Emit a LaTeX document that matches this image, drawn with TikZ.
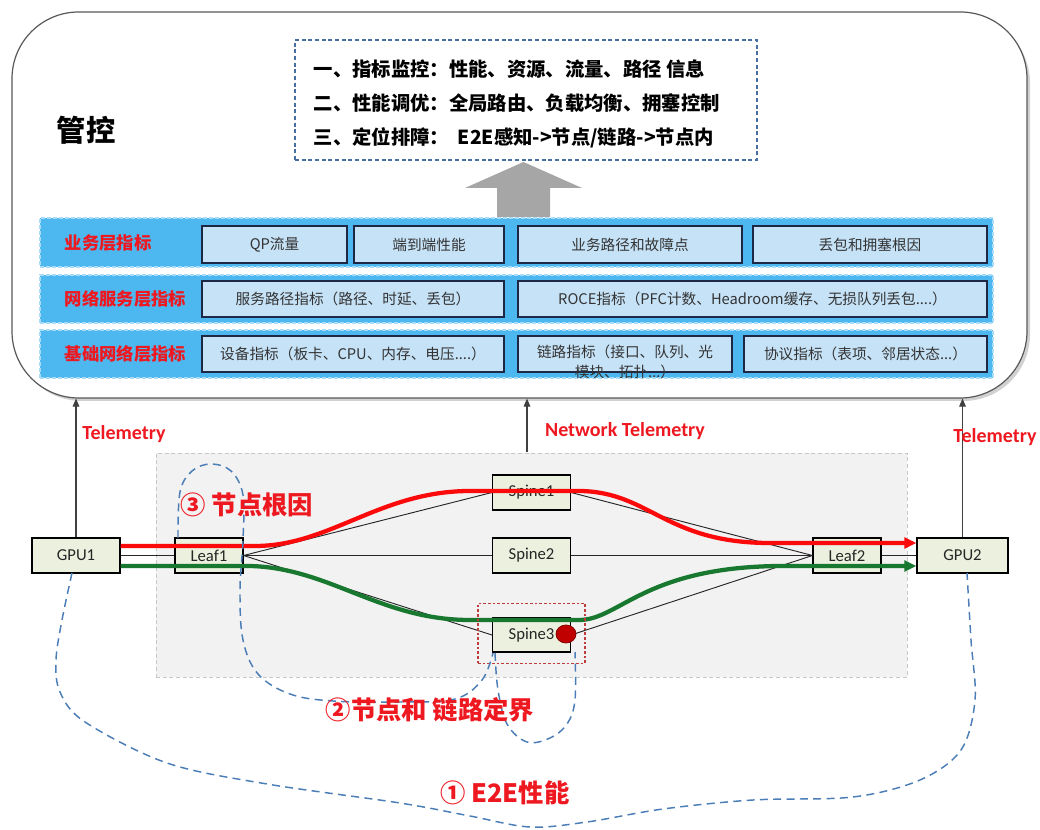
\documentclass[tikz,border=0pt]{standalone}
\usepackage{fontspec}
\setmainfont{Noto Sans CJK SC}
\newfontfamily\carl{Carlito}
\usetikzlibrary{arrows.meta,shapes.geometric}
\definecolor{rowblue}{RGB}{77,184,240}
\definecolor{rowedge}{RGB}{170,220,248}
\definecolor{inblue}{RGB}{198,226,247}
\definecolor{inborder}{RGB}{30,40,70}
\definecolor{nodegreen}{RGB}{235,241,222}
\definecolor{regiongray}{RGB}{242,242,242}
\definecolor{regionedge}{RGB}{200,200,200}
\definecolor{dashblue}{RGB}{75,125,182}
\definecolor{goalblue}{RGB}{70,110,160}
\definecolor{pathred}{RGB}{250,10,10}
\definecolor{pathgreen}{RGB}{25,120,48}
\definecolor{labred}{RGB}{238,24,32}
\definecolor{dotred}{RGB}{192,0,0}
\definecolor{boxred}{RGB}{190,60,60}
\definecolor{arrowgray}{RGB}{166,166,166}
\begin{document}
\begin{tikzpicture}[x=0.75pt,y=-0.75pt,
  sz/.style 2 args={minimum width=#1*0.75pt, minimum height=#2*0.75pt, inner sep=0pt},
  rowbox/.style={fill=rowblue, draw=rowedge, dash pattern=on 3pt off 1.5pt, line width=0.8pt},
  rowlab/.style={anchor=west, text=labred, font=\bfseries\fontsize{13}{15}\selectfont},
  inbox/.style={fill=inblue, draw=inborder, line width=0.9pt, text=black!80, font=\fontsize{11}{13}\selectfont},
  goaltxt/.style={anchor=west, text=black, font=\bfseries\fontsize{14.5}{16}\selectfont},
  netnode/.style={fill=nodegreen, draw=black, line width=0.8pt, text=black!85, font=\carl\fontsize{12.5}{14}\selectfont},
  link/.style={draw=black!85, line width=0.7pt},
  telem/.style={draw=black!75, line width=0.8pt, -{Triangle[length=6pt,width=5pt]}},
  telemlab/.style={text=labred, font=\carl\bfseries\fontsize{15}{17}\selectfont},
  flow/.style={line width=3.2pt, -{Triangle[length=9pt,width=8pt]}},
  bdash/.style={draw=dashblue, line width=1.1pt, dash pattern=on 6pt off 4pt},
  biglab/.style={text=labred, font=\bfseries\fontsize{19}{21}\selectfont}
]
\useasboundingbox (0,0) rectangle (1040,830);

% management frame
\fill[black!18, rounded corners=50pt] (15,16) rectangle (1030,401);
\node[draw=black!65, line width=0.9pt, fill=white, rounded corners=50pt, sz={1015}{386}] (main) at (519.5,205) {};
\node[font=\bfseries\fontsize{22}{24}\selectfont] (gk) at (86,130) {管控};

% goals box
\node[draw=goalblue, dash pattern=on 3pt off 2pt, line width=0.8pt, sz={462}{120}] (goals) at (526,100) {};
\node[goaltxt] (g1) at (309,69) {一、指标监控：性能、资源、流量、路径 信息};
\node[goaltxt] (g2) at (309,103) {二、性能调优：全局路由、负载均衡、拥塞控制};
\node[goaltxt] (g3) at (309,138) {三、定位排障：\ \ E2E感知->节点/链路->节点内};

% big gray arrow
\fill[arrowgray] (497,217) -- (497,188) -- (465,188) -- (523.5,162) -- (582,188) -- (550,188) -- (550,217) -- cycle;

% layer rows
\node[rowbox, sz={953}{49}] (r1) at (516.5,242.5) {};
\node[rowbox, sz={953}{48}] (r2) at (516.5,299) {};
\node[rowbox, sz={953}{48}] (r3) at (516.5,354) {};
\node[rowlab] (l1) at (60,243) {业务层指标};
\node[rowlab] (l2) at (60,299) {网络服务层指标};
\node[rowlab] (l3) at (60,354) {基础网络层指标};

\node[inbox, sz={145}{37}] (q1) at (274.5,244.5) {QP流量};
\node[inbox, sz={150}{37}] (q2) at (429,244.5) {端到端性能};
\node[inbox, sz={224}{37}] (q3) at (630,244.5) {业务路径和故障点};
\node[inbox, sz={234}{37}] (q4) at (870,244.5) {丢包和拥塞根因};

\node[inbox, sz={302}{36}] (s1) at (353,299) {服务路径指标（路径、时延、丢包）};
\node[inbox, sz={469}{36}] (s2) at (752.5,299) {ROCE指标（PFC计数、Headroom缓存、无损队列丢包....）};

\node[inbox, sz={302}{36}] (b1) at (353,354) {设备指标（板卡、CPU、内存、电压....）};
\node[inbox, sz={214}{36}] (b2) at (625,354) {};
\node[text=black!80, align=center, inner sep=0pt, font=\fontsize{11}{14.5}\selectfont] (b2t) at (625,362) {链路指标（接口、队列、光\\模块、拓扑...）};
\node[inbox, sz={243}{36}] (b3) at (865.5,354) {协议指标（表项、邻居状态...）};

% network region
\node[fill=regiongray, draw=regionedge, dash pattern=on 3pt off 2pt, line width=0.6pt, sz={751}{224}] (net) at (531.5,565) {};

\node[netnode, sz={88}{35}] (GPU1) at (76,555.5) {GPU1};
\node[netnode, sz={68}{35}] (Leaf1) at (209,555.5) {Leaf1};
\node[netnode, sz={78}{35}] (Spine1) at (531.5,492.5) {Spine1};
\node[netnode, sz={78}{35}] (Spine2) at (531.5,555.5) {Spine2};
\node[netnode, sz={78}{34}] (Spine3) at (531.5,635) {Spine3};
\node[netnode, sz={68}{35}] (Leaf2) at (847,555.5) {Leaf2};
\node[netnode, sz={91}{35}] (GPU2) at (962.5,555.5) {GPU2};

\draw[link] (GPU1) -- (Leaf1);
\draw[link] (Leaf1.east) -- (Spine1.west);
\draw[link] (Leaf1) -- (Spine2);
\draw[link] (Leaf1.east) -- (Spine3.west);
\draw[link] (Spine1.east) -- (Leaf2.west);
\draw[link] (Spine2) -- (Leaf2);
\draw[link] (Spine3.east) -- (Leaf2.west);
\draw[link] (Leaf2) -- (GPU2);

% telemetry arrows
\draw[telem] (GPU1.north) -- (GPU1.north |- main.south);
\draw[telem] (GPU2.north) -- (GPU2.north |- main.south);
\coordinate (nt) at (527,452);
\draw[telem] (nt) -- (nt |- main.south);
\node[telemlab] (tl1) at (124,434) {Telemetry};
\node[telemlab] (tl2) at (625,431) {Network Telemetry};
\node[telemlab] (tl3) at (995,437) {Telemetry};

% flows
\draw[flow, draw=pathred] ([yshift=7.1pt]GPU1.east) -- (255,546)
  .. controls (330,546) and (380,491) .. (470,491) -- (580,491)
  .. controls (650,492) and (665,543) .. (770,543) -- ([yshift=9.4pt]GPU2.west);
\draw[flow, draw=pathgreen] ([yshift=-7.9pt]GPU1.east) -- (250,566)
  .. controls (330,568) and (380,620) .. (470,620) -- (580,620)
  .. controls (620,619) and (645,567) .. (780,566) -- ([yshift=-7.9pt]GPU2.west);

% fault
\node[ellipse, fill=dotred, draw=dotred!70!black, line width=0.6pt, sz={20}{18}] (dot) at (566,634) {};
\node[draw=boxred, dash pattern=on 2pt off 1.5pt, line width=0.8pt, sz={107}{60}] (fault) at (531.5,633.5) {};

% dashed scope curves
\draw[bdash] plot[smooth, tension=0.6] coordinates {(178,538) (180,492) (192,471) (211,464) (231,471) (243,495) (243,540) (240,590) (243,640) (258,674) (290,694) (333,701) (400,702) (455,699) (482,680) (493,653)};
\draw[bdash] plot[smooth, tension=0.6] coordinates {(495,653) (498,690) (507,724) (527,742) (550,738) (567,724) (575,700) (575,652)};
\draw[bdash] plot[smooth, tension=0.55] coordinates {(72,573) (62,620) (56,660) (60,692) (85,722) (167,763) (267,784) (400,803) (470,816) (530,827) (587,822) (663,809) (753,800) (853,797) (920,780) (961,750) (975,700) (971,640) (967,573)};

\node[biglab] (c3) at (247,505) {③ 节点根因};
\node[biglab] (c2) at (430,710) {②节点和 链路定界};
\node[biglab] (c1) at (505,793) {① E2E性能};
\end{tikzpicture}
\end{document}
